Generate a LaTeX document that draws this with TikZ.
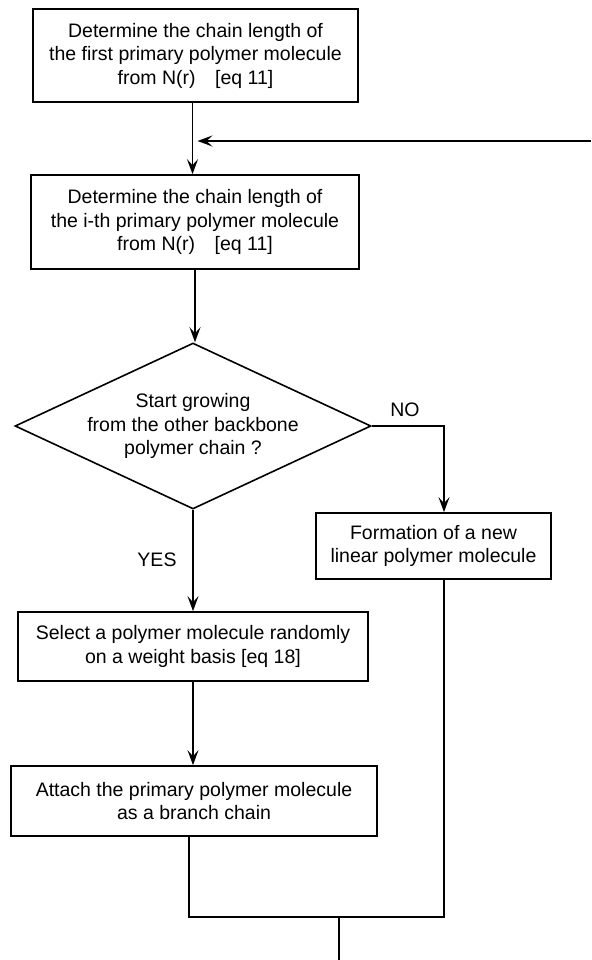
\documentclass[tikz,border=0pt]{standalone}
\usepackage{fontspec}
\setmainfont{Liberation Sans}
\usetikzlibrary{shapes.geometric,arrows.meta,calc}
\begin{document}
\begin{tikzpicture}[x=1pt,y=-1pt,
  font=\fontsize{19.5}{23.5}\selectfont,
  box/.style={draw,line width=1.7pt,rectangle,inner sep=0pt,align=center},
  dec/.style={draw,line width=1.6pt,diamond,inner sep=0pt},
  conn/.style={line width=1.5pt},
  arr/.style={conn,-{Stealth[length=15pt,width=11pt,inset=6pt]}},
  lab/.style={inner sep=0pt}]
\useasboundingbox (0,0) rectangle (591,960);
\node[box,minimum width=325pt,minimum height=93pt] (b1) at (195.5,55.5)
  {Determine the chain length of\\the first primary polymer molecule\\from N(r)\quad[eq 11]};
\node[box,minimum width=328pt,minimum height=94pt] (b2) at (195,222)
  {Determine the chain length of\\the i-th primary polymer molecule\\from N(r)\quad[eq 11]};
\node[dec,minimum width=356pt,minimum height=166pt,
  label={[align=center,lab]center:Start growing\\from the other backbone\\polymer chain ?}] (d) at (193,426) {};
\node[box,minimum width=235pt,minimum height=66pt] (form) at (433.5,546)
  {Formation of a new\\linear polymer molecule};
\node[box,minimum width=350pt,minimum height=69pt] (sel) at (193,646.5)
  {Select a polymer molecule randomly\\on a weight basis [eq 18]};
\node[box,minimum width=366pt,minimum height=70pt] (att) at (194,801)
  {Attach the primary polymer molecule\\as a branch chain};
\node[lab] (no) at (405,410) {NO};
\node[lab] (yes) at (157,560) {YES};
\coordinate (fb) at (591,141);
\coordinate (merge) at (339,917);
\coordinate (exit) at (339,960);
% connectors
\draw[arr] ([xshift=-3pt]b1.south) -- ([xshift=-3pt]b1.south |- b2.north);
\draw[arr] (fb) -- ([xshift=2pt]fb -| b1.south);
\draw[arr] (b2.south) -- (b2.south |- d.north);
\draw[arr] (d.east) -| ([xshift=10.5pt]form.north);
\draw[arr] (d.south) -- (d.south |- sel.north);
\draw[arr] (sel.south) -- (sel.south |- att.north);
\draw[conn] ([xshift=-5pt]att.south) |- (merge) -| ([xshift=10.5pt]form.south);
\draw[conn] (merge) -- (exit);
\end{tikzpicture}
\end{document}
